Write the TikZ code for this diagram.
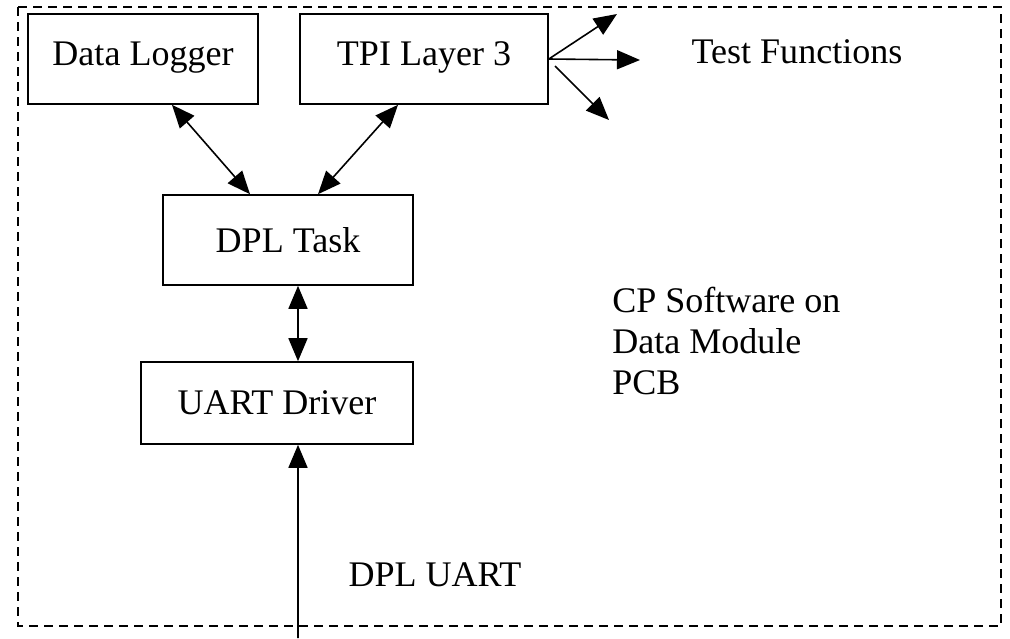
\documentclass[tikz,border=0pt]{standalone}
\usepackage{fontspec}
\setmainfont{Liberation Serif}
\usetikzlibrary{arrows.meta}
\tikzset{
  blk/.style={draw,line width=0.32mm,minimum height=18mm,inner sep=0pt},
  link/.style={line width=0.32mm,-{Triangle[length=4.6mm,width=3.8mm]}},
  dbl/.style={link,{Triangle[length=4.6mm,width=3.8mm]}-{Triangle[length=4.6mm,width=3.8mm]}},
  frame/.style={line width=0.3mm,dash pattern=on 1.8mm off 1.2mm}
}
\begin{document}
\begin{tikzpicture}[x=0.2mm,y=-0.2mm,font=\fontsize{20.5}{23.3}\selectfont]
\useasboundingbox (0,0) rectangle (1010,638);
\draw[frame](18,7)rectangle(1001,626);
\node[blk,minimum width=46mm,text depth=2.2mm](dl)at(143,59){Data Logger};
\node[blk,minimum width=49.6mm,text depth=2.2mm](tpi)at(424,59){TPI Layer 3};
\node[blk,minimum width=50mm](task)at(288,240){DPL Task};
\node[blk,minimum width=54.4mm,minimum height=16.4mm](uart)at(277,403){UART Driver};
\node(tf)at(797,52){Test Functions};
\node[inner sep=0pt,anchor=base](lbl)at(435,586){DPL UART};
\node[inner sep=0pt,anchor=west,align=left](cp)at(612,341){CP Software on\\Data Module\\PCB};
\coordinate(fu)at(617,14);
\coordinate(fr)at(640,60);
\coordinate(fd)at(609,120);
\coordinate(fs)at(555,66);
\coordinate(in)at(298,638);
\draw[link](tpi.east)--(fu);
\draw[link](tpi.east)--(fr);
\draw[link](fs)--(fd);
\draw[dbl]([xshift=5.8mm]dl.south)--([xshift=-7.6mm]task.north);
\draw[dbl]([xshift=-5.2mm]tpi.south)--([xshift=6mm]task.north);
\draw[dbl]([xshift=2mm]task.south)--([xshift=4.2mm]uart.north);
\draw[link](in)--([xshift=4.2mm]uart.south);
\end{tikzpicture}
\end{document}
